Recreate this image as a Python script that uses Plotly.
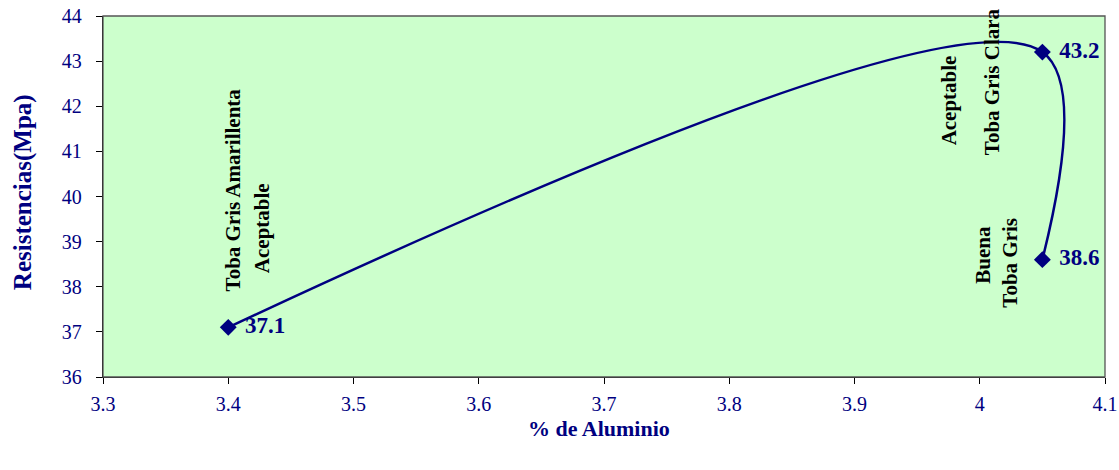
import plotly.graph_objects as go

aluminio = [3.4, 4.05, 4.05]
resistencia = [37.1, 43.2, 38.6]

notas_texto = ["Toba Gris Amarillenta", "Aceptable", "Aceptable", "Toba Gris Clara", "Buena", "Toba Gris"]
notas_x = [3.404, 3.427, 3.975, 4.010, 4.003, 4.024]
notas_y = [40.14, 39.30, 42.14, 42.54, 38.70, 38.53]

navy = "#000080"
serif = "Liberation Serif, Times New Roman, serif"

fig = go.Figure()
fig.add_trace(go.Scatter(
    x=aluminio, y=resistencia, mode="lines+markers+text",
    line=dict(color=navy, width=2.5, shape="spline", smoothing=1.0),
    marker=dict(symbol="diamond", size=13, color=navy),
    texttemplate="\u00a0\u200a%{y:.1f}", textposition="middle right",
    textfont=dict(family=serif, size=23, color=navy, weight="bold"),
    cliponaxis=False, showlegend=False, hoverinfo="x+y",
))

for t, x, y in zip(notas_texto, notas_x, notas_y):
    fig.add_annotation(x=x, y=y, text="<b>" + t + "</b>", textangle=-90, showarrow=False,
                       font=dict(family=serif, size=21, color="black"))

# axis titles
fig.add_annotation(xref="paper", yref="paper", x=0.495, y=-0.142, yanchor="middle",
                   text="<b>% de Aluminio</b>", showarrow=False,
                   font=dict(family=serif, size=22, color=navy))
fig.add_annotation(xref="paper", yref="paper", x=-0.0805, y=0.513, xanchor="center",
                   text="<b>Resistencias(Mpa)</b>", textangle=-90, showarrow=False,
                   font=dict(family=serif, size=25, color=navy))

fig.add_shape(type="rect", xref="paper", yref="paper", x0=0, x1=1, y0=0, y1=1,
              line=dict(color="#555555", width=1.3), layer="above")

fig.update_layout(
    width=1119, height=470,
    margin=dict(l=103, r=14, t=16, b=93, autoexpand=False),
    paper_bgcolor="white", plot_bgcolor="#CCFFCC",
    xaxis=dict(range=[3.3, 4.1], dtick=0.1, tick0=3.3, showgrid=False, zeroline=False,
               showline=True, linecolor="black", linewidth=1.3, automargin=False,
               ticks="outside", ticklen=6, tickcolor="black", ticklabelstandoff=3,
               tickfont=dict(family=serif, size=20, color=navy)),
    yaxis=dict(range=[36, 44], dtick=1, showgrid=False, zeroline=False,
               showline=True, linecolor="black", linewidth=1.3, automargin=False,
               ticks="outside", ticklen=6, tickcolor="black", ticklabelstandoff=10,
               tickfont=dict(family=serif, size=20, color=navy)),
)

fig.write_html("out.html")
